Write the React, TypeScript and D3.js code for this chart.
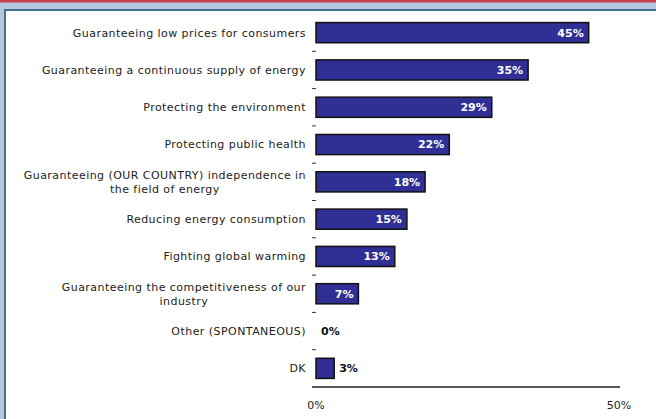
import React, { useLayoutEffect, useRef, useState } from "react";
import * as d3 from "d3";

const categories: string[][] = [
  ["Guaranteeing low prices for consumers"],
  ["Guaranteeing a continuous supply of energy"],
  ["Protecting the environment"],
  ["Protecting public health"],
  ["Guaranteeing (OUR COUNTRY) independence in", "the field of energy"],
  ["Reducing energy consumption"],
  ["Fighting global warming"],
  ["Guaranteeing the competitiveness of our", "industry"],
  ["Other (SPONTANEOUS)"],
  ["DK"],
];
const values: number[] = [45, 35, 29, 22, 18, 15, 13, 7, 0, 3];
const tickValues: number[] = [0, 50];

const W = 656;
const H = 419;
const FONT = "'DejaVu Sans', Verdana, sans-serif";
const FS = 11;
const LS = 0.45;

function Label({ lines, right, cy }: { lines: string[]; right: number; cy: number }) {
  const refs = useRef<(SVGTextElement | null)[]>([]);
  const [ws, setWs] = useState<number[]>([]);
  useLayoutEffect(() => {
    setWs(refs.current.map((el) => (el ? el.getComputedTextLength() : 0)));
  }, [lines]);
  const lh = 14;
  const y0 = cy - ((lines.length - 1) * lh) / 2;
  const w0 = ws[0] || 0;
  return (
    <g>
      {lines.map((ln, j) => {
        const wj = ws[j] || 0;
        const xj = j === 0 ? right : right - (w0 - wj) / 2;
        return (
          <text
            key={j}
            ref={(el) => {
              refs.current[j] = el;
            }}
            x={xj}
            y={y0 + j * lh}
            dy="0.35em"
            fontSize={FS}
            letterSpacing={LS}
            fill="#222"
            textAnchor="end"
          >
            {ln}
          </text>
        );
      })}
    </g>
  );
}

export default function App() {
  const x = d3.scaleLinear().domain([0, 50]).range([316, 619]);
  const y = d3
    .scaleBand<number>()
    .domain(d3.range(categories.length))
    .range([14, 387])
    .paddingInner(0.46)
    .paddingOuter(0.23);
  const bh = y.bandwidth();
  const step = y.step();
  const labelRight = 306;

  return (
    <svg
      width={W}
      height={H}
      style={{ position: "fixed", left: 0, top: 0, display: "block" }}
      fontFamily={FONT}
    >
      <rect x={0} y={0} width={W} height={H} fill="#b5c7dc" />
      <rect x={0} y={0} width={W} height={2.5} fill="#c3404e" />
      <rect x={4} y={9} width={W - 4} height={H - 9} fill="#3d7394" />
      <rect x={6} y={11} width={W - 6} height={H - 11} fill="#ffffff" />

      {categories.map((lines, i) => (
        <Label key={i} lines={lines} right={labelRight} cy={(y(i) as number) + bh / 2} />
      ))}

      {categories.slice(1).map((_, i) => (
        <line
          key={i}
          x1={312}
          x2={316}
          y1={(y(i + 1) as number) - (step - bh) / 2}
          y2={(y(i + 1) as number) - (step - bh) / 2}
          stroke="#333"
          strokeWidth={1}
        />
      ))}

      {values.map((v, i) =>
        v > 0 ? (
          <rect
            key={i}
            x={x(0)}
            y={y(i) as number}
            width={x(v) - x(0)}
            height={bh}
            fill="#2f2f96"
            stroke="#111"
            strokeWidth={1.5}
          />
        ) : null
      )}

      {values.map((v, i) => {
        const cy = (y(i) as number) + bh / 2;
        const inside = v >= 5;
        return (
          <text
            key={i}
            x={inside ? x(v) - 5 : x(v) + 5}
            y={cy}
            dy="0.35em"
            fontSize={11}
            fontWeight="bold"
            fill={inside ? "#ffffff" : "#111"}
            textAnchor={inside ? "end" : "start"}
          >
            {v}%
          </text>
        );
      })}

      <line x1={312} x2={620} y1={387} y2={387} stroke="#222" strokeWidth={1.5} />
      {tickValues.map((t) => (
        <text
          key={t}
          x={x(t)}
          y={405}
          dy="0.35em"
          fontSize={FS}
          fill="#222"
          textAnchor="middle"
        >
          {t}%
        </text>
      ))}
    </svg>
  );
}
